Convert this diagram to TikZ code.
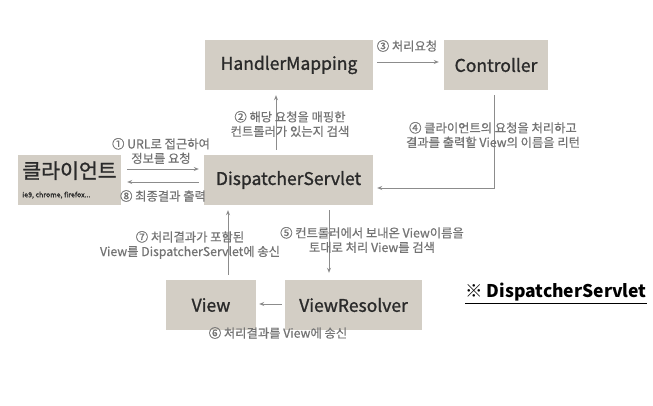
\documentclass[tikz,border=0pt]{standalone}
\usepackage{fontspec}
\setmainfont{Noto Sans CJK KR}
\newfontfamily\boxfont[FakeBold=1.2]{Noto Sans CJK KR}
\newfontfamily\lblfont[FakeBold=0.5]{Noto Sans CJK KR}
\usetikzlibrary{arrows.meta,calc}
\definecolor{boxfill}{HTML}{D3CEC5}
\definecolor{boxtext}{HTML}{2A2A2A}
\definecolor{lbltext}{HTML}{737373}
\definecolor{arrgray}{HTML}{8C8C8C}
\begin{document}
\begin{tikzpicture}[x=1pt,y=-1pt,
 box/.style={fill=boxfill, draw=none, text=boxtext, font=\boxfont\fontsize{17.5}{20}\selectfont, inner sep=0pt},
 lbl/.style={text=lbltext, font=\lblfont\fontsize{12.3}{14.5}\selectfont, align=center, inner sep=0pt},
 arr/.style={draw=arrgray, line width=1pt, -{Stealth[length=5pt,width=4pt]}}]
\useasboundingbox[fill=white] (0,0) rectangle (653,405);
\node[box, minimum width=168pt, minimum height=50pt] (hm) at (289,65) {HandlerMapping};
\node[box, minimum width=104pt, minimum height=50pt] (ctrl) at (496,65) {Controller};
\node[box, minimum width=103pt, minimum height=50pt, align=left] (client) at (69.5,180)
 {{\fontsize{20.5}{22}\selectfont 클라이언트}\\[-1pt]{\fontsize{7}{8}\selectfont ie9, chrome, firefox...}};
\node[box, minimum width=169pt, minimum height=50pt] (ds) at (288.5,180) {DispatcherServlet};
\node[box, minimum width=90pt, minimum height=50pt] (view) at (211,305) {View};
\node[box, minimum width=137pt, minimum height=50pt] (vr) at (353.5,305) {ViewResolver};

\draw[arr] ($(client.east)+(6,-11)$) -- ($(ds.west)+(-5,-11)$);
\draw[arr] ($(ds.west)+(-5,2)$) -- ($(client.east)+(6,2)$);
\draw[arr] ($(ds.north)+(-12.5,-5)$) -- ($(hm.south)+(-13,5)$);
\draw[arr] ($(hm.east)+(4,-3)$) -- ($(ctrl.west)+(-5,-3)$);
\draw[arr] ($(ctrl.south)+(-2,5)$) |- ($(ds.east)+(4,8)$);
\draw[arr] ($(ds.south)+(40.5,5)$) -- ($(vr.north)+(-24.5,-7)$);
\draw[arr] ($(vr.west)+(-3,-1)$) -- ($(view.east)+(3,-1)$);
\draw[arr] ($(view.north)+(17,-5)$) -- ($(ds.south)+(-60.5,5)$);

\node[lbl] (l3) at (407,46) {③ 처리요청};
\node[lbl] (l2) at (290,124) {② 해당 요청을 매핑한\\컨트롤러가 있는지 검색};
\node[lbl] (l1) at (161,151) {① URL로 접근하여\\정보를 요청};
\node[lbl] (l8) at (163,196) {⑧ 최종결과 출력};
\node[lbl] (l4) at (493,135) {④ 클라이언트의 요청을 처리하고\\결과를 출력할 View의 이름을 리턴};
\node[lbl] (l5) at (372,240) {⑤ 컨트롤러에서 보내온 View이름을\\토대로 처리 View를 검색};
\node[lbl] (l7) at (190,245) {⑦ 처리결과가 포함된\\View를 DispatcherServlet에 송신};
\node[lbl] (l6) at (278,333) {⑥ 처리결과를 View에 송신};

\node[inner sep=0pt, font=\fontsize{17.5}{20}\selectfont\bfseries] (note) at (556,292) {※ DispatcherServlet};
\draw[line width=1.1pt] ($(note.south west)+(0,2)$) -- ($(note.south east)+(0,2)$);
\end{tikzpicture}
\end{document}
